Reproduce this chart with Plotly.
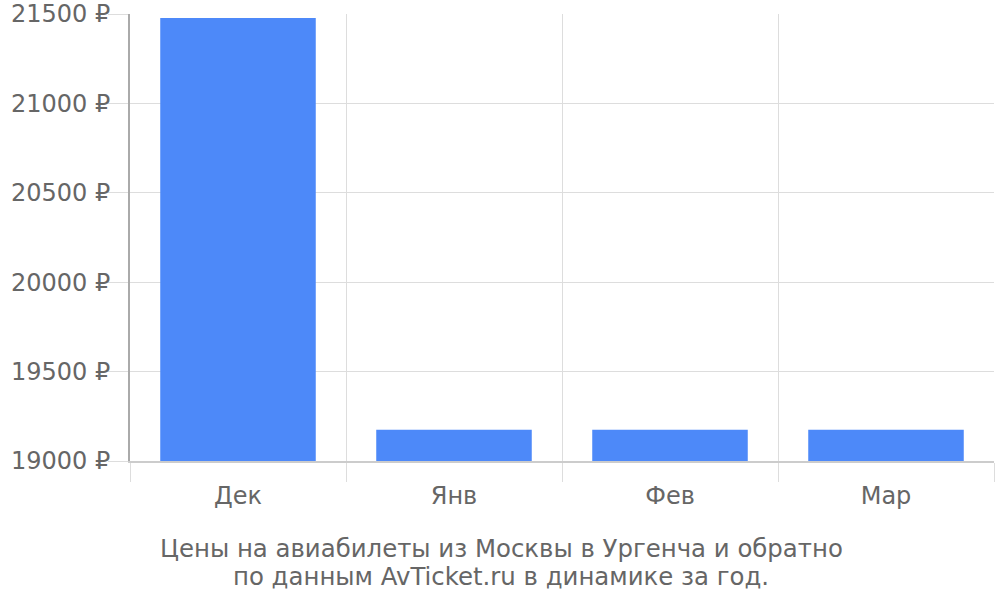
import plotly.graph_objects as go

months = ['Дек', 'Янв', 'Фев', 'Мар']
prices = [21478, 19175, 19175, 19175]
y_ticks = [19000, 19500, 20000, 20500, 21000, 21500]
y_labels = [f'{v} ₽' for v in y_ticks]

title_lines = ['Цены на авиабилеты из Москвы в Ургенча и обратно',
               'по данным AvTicket.ru в динамике за год.']

fig = go.Figure()
fig.add_trace(go.Bar(x=months, y=prices, marker_color='#4d89f9',
                     marker_line_width=0, width=0.72))

fig.update_layout(
    width=1000, height=600,
    margin=dict(l=130, r=6, t=14, b=139),
    plot_bgcolor='white', paper_bgcolor='white',
    font=dict(family='DejaVu Sans', size=24, color='#666666'),
    showlegend=False,
)
fig.update_xaxes(
    type='category', tickson='boundaries', ticks='outside', ticklen=19,
    tickcolor='#dddddd', showgrid=True, gridcolor='#dddddd', gridwidth=1,
    showline=True, linecolor='#cccccc', linewidth=2, automargin=False,
    ticklabelstandoff=12,
    tickfont=dict(size=24, color='#666666'),
)
fig.update_yaxes(
    range=[19000, 21500], tickvals=y_ticks, ticktext=y_labels,
    ticks='outside', ticklen=20, tickcolor='#dddddd',
    showgrid=True, gridcolor='#dddddd', gridwidth=1,
    showline=True, linecolor='#aaaaaa', linewidth=2,
    zeroline=False, automargin=False, ticklabelstandoff=-7,
    ticklabeloverflow='allow',
    tickfont=dict(size=24, color='#666666'),
)
for i, line in enumerate(title_lines):
    fig.add_annotation(text=line, xref='paper', yref='paper',
                       x=(501 - 130) / 864.0, y=(461 - 548 - 28 * i) / 447.0,
                       xanchor='center', yanchor='middle',
                       showarrow=False,
                       font=dict(size=24.4, color='#666666'))

# drop the default body margin so the chart sits at the page corner
fig.write_html("out.html", config={'displayModeBar': False},
               post_script="document.body.style.margin = '0';")
